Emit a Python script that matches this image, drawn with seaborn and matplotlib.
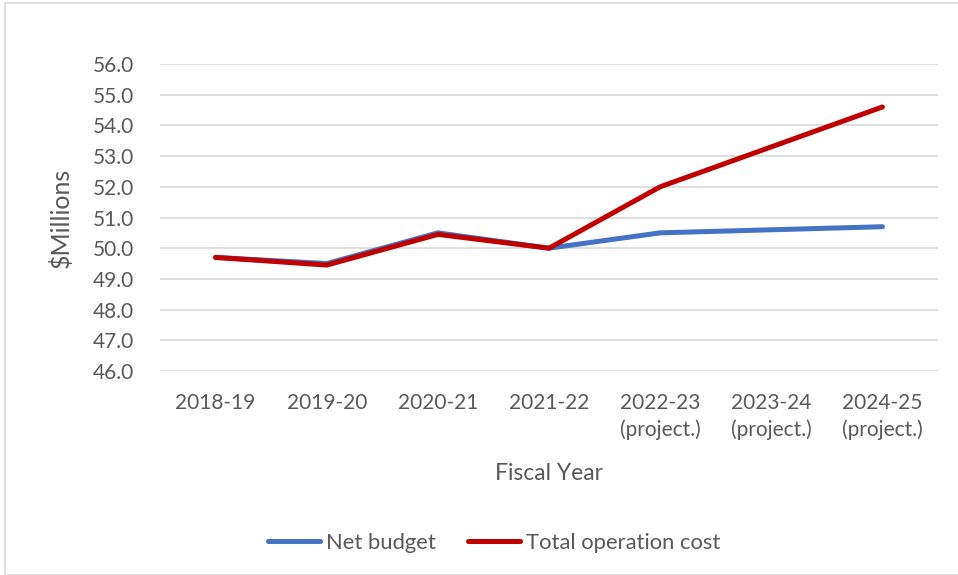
import matplotlib
matplotlib.use("Agg")
import matplotlib.pyplot as plt
from matplotlib.lines import Line2D
from matplotlib.patches import Rectangle
import pandas as pd
import seaborn as sns

# Fiscal years and the two cost series ($ millions)
years = ["2018-19", "2019-20", "2020-21", "2021-22",
         "2022-23\n(project.)", "2023-24\n(project.)", "2024-25\n(project.)"]
net_budget = [49.7, 49.5, 50.5, 50.0, 50.5, 50.6, 50.7]
total_operation_cost = [49.7, 49.45, 50.45, 50.0, 52.0, 53.3, 54.6]
y_ticks = [46.0, 47.0, 48.0, 49.0, 50.0, 51.0, 52.0, 53.0, 54.0, 55.0, 56.0]

series_names = ["Net budget", "Total operation cost"]
colors = {"Net budget": "#4472C4", "Total operation cost": "#C00000"}

df = pd.DataFrame({
    "x": list(range(len(years))) * 2,
    "value": net_budget + total_operation_cost,
    "series": [series_names[0]] * len(years) + [series_names[1]] * len(years),
})

sns.set_theme(style="white")
plt.rcParams["font.family"] = ["Lato", "DejaVu Sans"]
text_color = "#595959"
lw = 3.6

fig = plt.figure(figsize=(9.58, 5.75), dpi=100)
ax = fig.add_axes([160 / 958, 1 - 371 / 575, (938 - 160) / 958, (371 - 64) / 575])

sns.lineplot(data=df, x="x", y="value", hue="series", palette=colors,
             hue_order=series_names, linewidth=lw, ax=ax, legend=False,
             sort=False)
for ln in ax.get_lines():
    ln.set_solid_capstyle("round")
    ln.set_solid_joinstyle("round")

ax.set_xlim(-0.5, len(years) - 0.5)
ax.set_ylim(46.0, 56.0)
ax.set_yticks(y_ticks)
ax.set_yticklabels([f"{v:.1f}" for v in y_ticks])
ax.set_xticks(range(len(years)))
ax.set_xticklabels(years, linespacing=1.4)
ax.grid(axis="y", color="#D9D9D9", linewidth=1.2)
ax.grid(axis="x", visible=False)
ax.set_axisbelow(True)
for s in ax.spines.values():
    s.set_visible(False)
ax.tick_params(axis="both", length=0, labelsize=15, colors=text_color)
ax.tick_params(axis="x", pad=16)
ax.tick_params(axis="y", pad=19)

ax.set_xlabel("Fiscal Year", fontsize=16.5, color=text_color, labelpad=16)
ax.set_ylabel("$Millions", fontsize=18, color=text_color, labelpad=14)

handles = [Line2D([0], [0], color=colors[n], linewidth=lw,
                  solid_capstyle="round") for n in series_names]
fig.legend(handles, series_names, loc="center",
           bbox_to_anchor=(494 / 958, 1 - 543 / 575),
           ncol=2, frameon=False, fontsize=15.8, labelcolor=text_color,
           handlelength=2.4, handletextpad=0.25, columnspacing=1.45)

fig.patches.append(Rectangle((5 / 958, 0.0), 1.0, 1 - 3 / 575,
                             transform=fig.transFigure, fill=False,
                             edgecolor="#D9D9D9", linewidth=1.2))

fig.savefig("out.png", dpi=100, facecolor="white")
